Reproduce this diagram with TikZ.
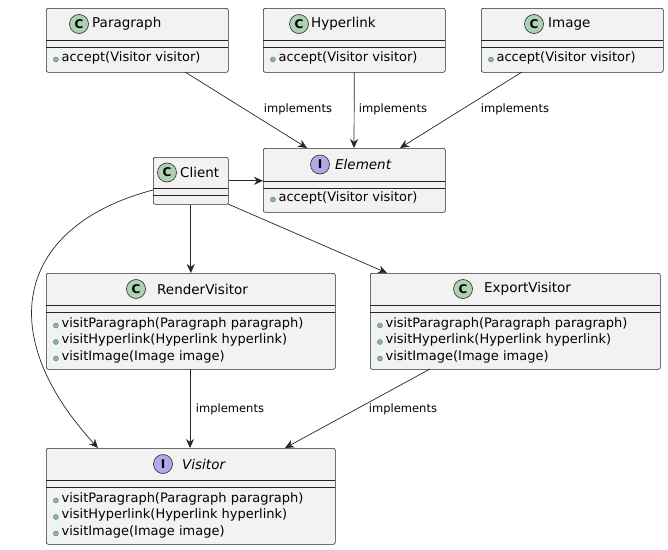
\documentclass[tikz,border=0pt]{standalone}
\usepackage{fontspec}
\setmainfont{DejaVu Sans}
\usetikzlibrary{arrows.meta}
\begin{document}
\begin{tikzpicture}[x=1pt,y=-1pt,
 box/.style={draw=black!85,fill=black!5,rounded corners=2pt,line width=0.6pt,anchor=north west,inner sep=0pt},
 sep/.style={draw=black!85,line width=0.6pt},
 circ/.style={circle,draw=black!85,line width=0.6pt,minimum size=19pt,inner sep=0pt,font=\fontsize{12}{12}\selectfont\bfseries},
 cc/.style={circ,fill={rgb,255:red,173;green,209;blue,178}},
 ic/.style={circ,fill={rgb,255:red,180;green,167;blue,229}},
 ttl/.style={font=\fontsize{13.5}{14}\selectfont,anchor=west,inner sep=0pt},
 meth/.style={font=\fontsize{13}{16.5}\selectfont,anchor=north west,align=left,inner sep=0pt},
 lbl/.style={font=\fontsize{11.5}{12}\selectfont,inner sep=1pt},
 arr/.style={draw=black!85,line width=0.7pt,-{Stealth[length=9pt,width=8pt]}}]
\useasboundingbox (0,0) rectangle (668,549);
\newcommand{\mdot}{\tikz[baseline=-3.5pt]\node[circle,fill={rgb,255:red,132;green,190;blue,132},draw=black!60,line width=0.3pt,inner sep=1.8pt]{};\hspace{3pt}}
\newcommand{\ucls}[9]{%
 \node[box,minimum width=#4-#2,minimum height=#5-#3] (#1) at (#2,#3) {};
 \draw[sep] (#2,#6) -- (#4,#6);
 \draw[sep] (#2,#6+7) -- (#4,#6+7);
 \node[#7] (#1c) at ({#9},{(#3+#6)/2}) {#8};
}
\ucls{par}{46}{8}{228}{72}{40}{cc}{C}{79}
\node[ttl] (part) at (92,24) {Paragraph};
\node[meth] (parm) at (53,51) {\mdot accept(Visitor visitor)};
\ucls{hyp}{263}{8}{445}{72}{40}{cc}{C}{299}
\node[ttl] (hypt) at (311,24) {Hyperlink};
\node[meth] (hypm) at (270,51) {\mdot accept(Visitor visitor)};
\ucls{img}{481}{8}{663}{72}{40}{cc}{C}{534}
\node[ttl] (imgt) at (548,24) {Image};
\node[meth] (imgm) at (488,51) {\mdot accept(Visitor visitor)};
\ucls{cli}{153}{157}{228}{204}{188}{cc}{C}{167}
\node[ttl] (clit) at (180,172) {Client};
\ucls{ele}{263}{148}{445}{212}{181}{ic}{I}{320}
\node[ttl,font=\fontsize{13.5}{14}\selectfont\itshape] (elet) at (335,164) {Element};
\node[meth] (elem) at (270,191) {\mdot accept(Visitor visitor)};
\ucls{rv}{46}{273}{335}{369}{305}{cc}{C}{136}
\node[ttl] (rvt) at (157,289) {RenderVisitor};
\node[meth] (rvm) at (53,317) {\mdot visitParagraph(Paragraph paragraph)\\ \mdot visitHyperlink(Hyperlink hyperlink)\\ \mdot visitImage(Image image)};
\ucls{ev}{370}{273}{660}{369}{305}{cc}{C}{463}
\node[ttl] (evt) at (484,289) {ExportVisitor};
\node[meth] (evm) at (377,317) {\mdot visitParagraph(Paragraph paragraph)\\ \mdot visitHyperlink(Hyperlink hyperlink)\\ \mdot visitImage(Image image)};
\ucls{vis}{46}{448}{335}{544}{480}{ic}{I}{163}
\node[ttl,font=\fontsize{13.5}{14}\selectfont\itshape] (vist) at (182,464) {Visitor};
\node[meth] (vism) at (53,492) {\mdot visitParagraph(Paragraph paragraph)\\ \mdot visitHyperlink(Hyperlink hyperlink)\\ \mdot visitImage(Image image)};
% connectors
\coordinate (p1) at (185,72); \coordinate (i1) at (522,72);
\coordinate (e1) at (307,148); \coordinate (e2) at (354,148); \coordinate (e3) at (400,148);
\draw[arr] (p1) -- (e1);
\draw[arr] (hyp.south) -- (e2);
\draw[arr] (i1) -- (e3);
\node[lbl] (l1) at (298,109) {implements};
\node[lbl] (l2) at (393,109) {implements};
\node[lbl] (l3) at (515,109) {implements};
\draw[arr] (cli.east) -- (ele.west |- cli.east);
\draw[arr] (cli.south) -- (cli.south |- rv.north);
\coordinate (cs) at (228,204); \coordinate (evn) at (387,273);
\draw[arr] (cs) -- (evn);
\coordinate (cw) at (153,190); \coordinate (vn) at (98,448);
\draw[arr] (cw) .. controls (20,225) and (-10,330) .. (vn);
\coordinate (rvs) at (190,369); \coordinate (vn2) at (190,448);
\draw[arr] (rvs) -- (vn2);
\node[lbl] (l4) at (230,409) {implements};
\coordinate (evs) at (430,369); \coordinate (vn3) at (285,448);
\draw[arr] (evs) -- (vn3);
\node[lbl] (l5) at (403,409) {implements};
\end{tikzpicture}
\end{document}
